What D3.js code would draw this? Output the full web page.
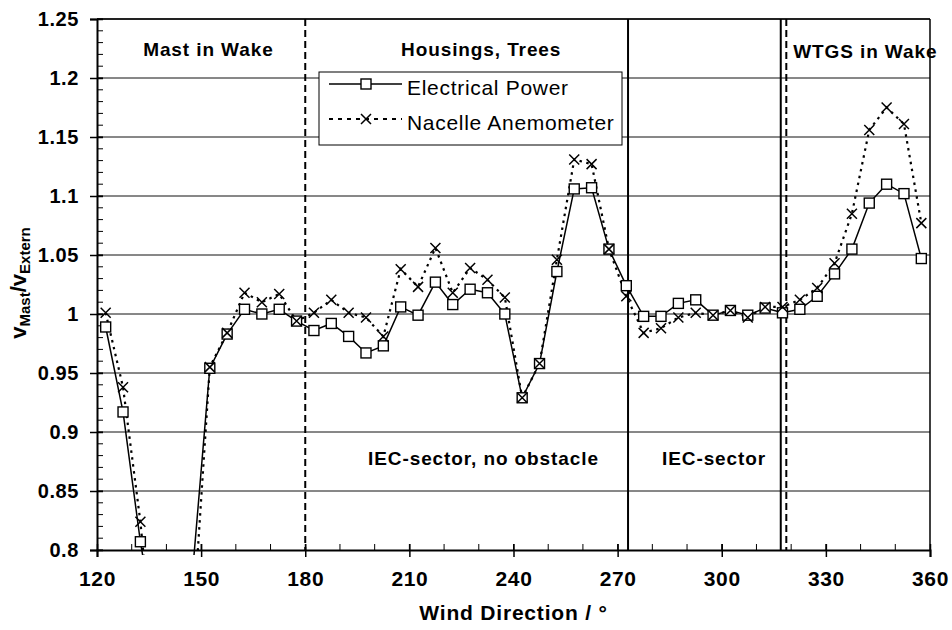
<!DOCTYPE html>
<html>
<head>
<meta charset="utf-8">
<script src="https://cdn.jsdelivr.net/npm/d3@7"></script>
<style>
body { margin: 0; background: #fff; }
text { font-family: Arial, "Liberation Sans", sans-serif; fill: #000; }
</style>
</head>
<body>
<script>
// wind direction bins (deg)
var directions = [122.5, 127.5, 132.5, 137.5, 142.5, 147.5, 152.5, 157.5, 162.5, 167.5, 172.5, 177.5,
    182.5, 187.5, 192.5, 197.5, 202.5, 207.5, 212.5, 217.5, 222.5, 227.5, 232.5, 237.5,
    242.5, 247.5, 252.5, 257.5, 262.5, 267.5, 272.5, 277.5, 282.5, 287.5, 292.5, 297.5,
    302.5, 307.5, 312.5, 317.5, 322.5, 327.5, 332.5, 337.5, 342.5, 347.5, 352.5, 357.5]

var electricalPower = [0.989, 0.917, 0.807, 0.72, 0.70, 0.78, 0.954, 0.983, 1.004, 1.000, 1.004, 0.994,
    0.986, 0.992, 0.981, 0.967, 0.973, 1.006, 0.999, 1.027, 1.008, 1.021, 1.018, 1.000,
    0.929, 0.958, 1.036, 1.106, 1.107, 1.055, 1.024, 0.998, 0.998, 1.009, 1.012, 0.999,
    1.003, 0.999, 1.005, 1.001, 1.004, 1.015, 1.034, 1.055, 1.094, 1.110, 1.102, 1.047]

var nacelleAnemometer = [1.001, 0.938, 0.824, 0.67, 0.65, 0.73, 0.955, 0.984, 1.018, 1.010, 1.017, 0.994,
    1.001, 1.012, 1.001, 0.997, 0.981, 1.038, 1.023, 1.056, 1.018, 1.039, 1.029, 1.014,
    0.929, 0.958, 1.046, 1.131, 1.127, 1.055, 1.015, 0.984, 0.988, 0.997, 1.001, 0.999,
    1.003, 0.997, 1.006, 1.006, 1.012, 1.022, 1.043, 1.085, 1.156, 1.175, 1.161, 1.077]

var xTicks = [120, 150, 180, 210, 240, 270, 300, 330, 360]
var yTicks = [0.8, 0.85, 0.9, 0.95, 1, 1.05, 1.1, 1.15, 1.2, 1.25]

// sector boundaries
var solidBounds = [273, 317]
var dashedBounds = [180, 318.6]

var sectorLabels = [
    {text: 'Mast in Wake', x: 133.3, y: 1.2186},
    {text: 'Housings, Trees', x: 207.6, y: 1.2186},
    {text: 'WTGS in Wake', x: 320.6, y: 1.217},
    {text: 'IEC-sector, no obstacle', x: 198.1, y: 0.872},
    {text: 'IEC-sector', x: 282.8, y: 0.872}
]

var seriesNames = ['Electrical Power', 'Nacelle Anemometer']

var margin = {top: 19, right: 22, bottom: 80, left: 97}
var width = 952 - margin.left - margin.right
var height = 630 - margin.top - margin.bottom

var svg = d3.select('body').append('svg')
    .attr('width', 952)
    .attr('height', 630)

var g = svg.append('g')
    .attr('transform', 'translate(' + margin.left + ',' + margin.top + ')')

var x = d3.scaleLinear().domain([120, 360]).range([0, width])
var y = d3.scaleLinear().domain([0.8, 1.25]).range([height, 0])

// horizontal grid
g.selectAll('line.grid')
    .data(yTicks.slice(1))
    .enter()
    .append('line')
    .attr('class', 'grid')
    .attr('x1', 0)
    .attr('x2', width)
    .attr('y1', function (d) { return y(d) })
    .attr('y2', function (d) { return y(d) })
    .attr('stroke', '#111')
    .attr('stroke-width', 1)

// right border
g.append('line')
    .attr('x1', width).attr('x2', width)
    .attr('y1', 0).attr('y2', height)
    .attr('stroke', '#000')
    .attr('stroke-width', 1.5)

// sector boundaries
g.selectAll('line.solidb')
    .data(solidBounds)
    .enter()
    .append('line')
    .attr('x1', function (d) { return x(d) })
    .attr('x2', function (d) { return x(d) })
    .attr('y1', 0).attr('y2', height)
    .attr('stroke', '#000')
    .attr('stroke-width', 2)

g.selectAll('line.dashb')
    .data(dashedBounds)
    .enter()
    .append('line')
    .attr('x1', function (d) { return x(d) })
    .attr('x2', function (d) { return x(d) })
    .attr('y1', 0).attr('y2', height)
    .attr('stroke', '#000')
    .attr('stroke-width', 2)
    .attr('stroke-dasharray', '7,4')

// sector labels
g.selectAll('text.sector')
    .data(sectorLabels)
    .enter()
    .append('text')
    .attr('x', function (d) { return x(d.x) })
    .attr('y', function (d) { return y(d.y) })
    .attr('font-size', 19)
    .attr('font-weight', 'bold')
    .attr('letter-spacing', 0.9)
    .text(function (d) { return d.text })

// axes
var yAxis = d3.axisLeft(y).tickValues(yTicks).tickSize(7).tickPadding(11)
    .tickFormat(function (d) { return d3.format('')(+d.toFixed(2)) })
var yAx = g.append('g').call(yAxis)
yAx.select('.domain').attr('stroke-width', 2)
yAx.selectAll('.tick line').attr('x2', -7).attr('x1', 6).attr('stroke-width', 1.5)
yAx.selectAll('.tick text')
    .attr('font-size', 20)
    .attr('font-weight', 'bold')
    .attr('font-family', 'Arial, "Liberation Sans", sans-serif')
    .attr('letter-spacing', 0.6)

var yMinor = d3.range(80, 126).map(function (d) { return d / 100 })
g.selectAll('line.yminor')
    .data(yMinor)
    .enter()
    .append('line')
    .attr('x1', 0).attr('x2', 6)
    .attr('y1', function (d) { return y(d) })
    .attr('y2', function (d) { return y(d) })
    .attr('stroke', '#000')
    .attr('stroke-width', 1)

var xAxis = d3.axisBottom(x).tickValues(xTicks).tickSize(7).tickPadding(14)
var xAx = g.append('g').attr('transform', 'translate(0,' + height + ')').call(xAxis)
xAx.select('.domain').attr('stroke-width', 2)
xAx.selectAll('.tick line').attr('y1', -6).attr('stroke-width', 1.5)
xAx.selectAll('.tick text')
    .attr('font-size', 21)
    .attr('font-weight', 'bold')
    .attr('font-family', 'Arial, "Liberation Sans", sans-serif')
    .attr('letter-spacing', 0.6)

var xMinor = d3.range(130, 360, 10)
g.selectAll('line.xminor')
    .data(xMinor)
    .enter()
    .append('line')
    .attr('x1', function (d) { return x(d) })
    .attr('x2', function (d) { return x(d) })
    .attr('y1', height - 6).attr('y2', height)
    .attr('stroke', '#000')
    .attr('stroke-width', 1)

// top border
g.append('line')
    .attr('x1', 0).attr('x2', width)
    .attr('y1', 0).attr('y2', 0)
    .attr('stroke', '#000')
    .attr('stroke-width', 1.5)

// axis titles
svg.append('text')
    .attr('x', margin.left + x(240))
    .attr('y', 620)
    .attr('text-anchor', 'middle')
    .attr('font-size', 21)
    .attr('font-weight', 'bold')
    .attr('letter-spacing', 0.8)
    .text('Wind Direction / °')

var yTitle = svg.append('text')
    .attr('transform', 'translate(26,283) rotate(-90)')
    .attr('text-anchor', 'middle')
    .attr('font-weight', 'bold')
yTitle.append('tspan').attr('font-size', 22).text('v')
yTitle.append('tspan').attr('font-size', 15).attr('dy', 4).text('Mast')
yTitle.append('tspan').attr('font-size', 22).attr('dy', -4).text('/v')
yTitle.append('tspan').attr('font-size', 15).attr('dy', 4).text('Extern')

// data
var powerData = directions.map(function (d, i) { return {x: d, v: electricalPower[i]} })
var nacelleData = directions.map(function (d, i) { return {x: d, v: nacelleAnemometer[i]} })

svg.append('defs').append('clipPath').attr('id', 'plotclip')
    .append('rect')
    .attr('x', 0).attr('y', -6)
    .attr('width', width).attr('height', height + 11)

var line = d3.line()
    .x(function (d) { return x(d.x) })
    .y(function (d) { return y(d.v) })

var plot = g.append('g').attr('clip-path', 'url(#plotclip)')

plot.append('path')
    .datum(nacelleData)
    .attr('d', line)
    .attr('fill', 'none')
    .attr('stroke', '#000')
    .attr('stroke-width', 2.2)
    .attr('stroke-dasharray', '2.5,4.5')

plot.append('path')
    .datum(powerData)
    .attr('d', line)
    .attr('fill', 'none')
    .attr('stroke', '#000')
    .attr('stroke-width', 1.5)

plot.selectAll('rect.sq')
    .data(powerData.filter(function (d) { return d.v >= 0.8 }))
    .enter()
    .append('rect')
    .attr('x', function (d) { return x(d.x) - 5 })
    .attr('y', function (d) { return y(d.v) - 5 })
    .attr('width', 10)
    .attr('height', 10)
    .attr('fill', '#fff')
    .attr('stroke', '#000')
    .attr('stroke-width', 1.4)

var cross = 'M-5,-5L5,5M-5,5L5,-5'
plot.selectAll('path.cx')
    .data(nacelleData.filter(function (d) { return d.v >= 0.8 }))
    .enter()
    .append('path')
    .attr('transform', function (d) { return 'translate(' + x(d.x) + ',' + y(d.v) + ')' })
    .attr('d', cross)
    .attr('fill', 'none')
    .attr('stroke', '#000')
    .attr('stroke-width', 1.5)

// legend
var legend = svg.append('g').attr('transform', 'translate(319,72)')
legend.append('rect')
    .attr('width', 303)
    .attr('height', 73)
    .attr('fill', '#fff')
    .attr('stroke', '#000')
    .attr('stroke-width', 1)

var rows = legend.selectAll('g.row')
    .data(seriesNames)
    .enter()
    .append('g')
    .attr('transform', function (d, i) { return 'translate(0,' + (12 + i * 35) + ')' })

rows.append('line')
    .attr('x1', 10).attr('x2', 83)
    .attr('y1', 0).attr('y2', 0)
    .attr('stroke', '#000')
    .attr('stroke-width', function (d, i) { return i === 0 ? 1.5 : 2 })
    .attr('stroke-dasharray', function (d, i) { return i === 0 ? null : '4,5' })

rows.each(function (d, i) {
    var r = d3.select(this)
    if (i === 0) {
        r.append('rect').attr('x', 42).attr('y', -5).attr('width', 10).attr('height', 10)
            .attr('fill', '#fff').attr('stroke', '#000').attr('stroke-width', 1.4)
    } else {
        r.append('path').attr('transform', 'translate(47,0)').attr('d', cross)
            .attr('fill', 'none').attr('stroke', '#000').attr('stroke-width', 1.5)
    }
})

rows.append('text')
    .attr('x', 88)
    .attr('y', 11)
    .attr('font-size', 21)
    .attr('letter-spacing', 0.7)
    .text(function (d) { return d })
</script>
</body>
</html>
